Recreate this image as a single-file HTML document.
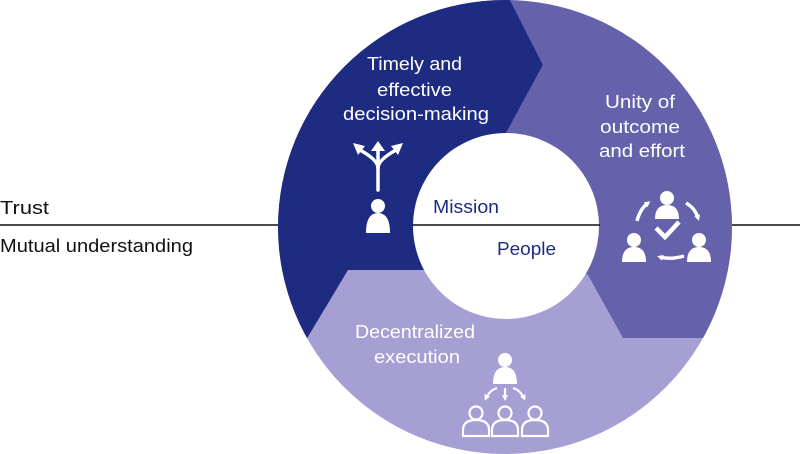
<!DOCTYPE html>
<html><head><meta charset="utf-8"><style>
html,body{margin:0;padding:0;background:#fff;}
svg{display:block;}
text{font-family:"Liberation Sans",sans-serif;}
</style></head><body>
<svg width="800" height="454" viewBox="0 0 800 454" xmlns="http://www.w3.org/2000/svg">
<defs>
<clipPath id="c"><circle cx="505" cy="227" r="227"/></clipPath>
<marker id="ah" markerWidth="6" markerHeight="6" refX="3" refY="3" orient="auto" markerUnits="userSpaceOnUse"><path d="M0,0 L6,3 L0,6 Z" fill="#fff"/></marker>
</defs>
<line x1="0" y1="225" x2="800" y2="225" stroke="#111" stroke-width="1.6"/>
<g clip-path="url(#c)">
<rect x="270" y="0" width="470" height="454" fill="#a59fd3"/>
<polygon points="260,0 510,0 543,65 505,135 505,270 348,270 300,350 260,350" fill="#1d2b80"/>
<polygon points="510,0 760,0 760,338 623,338 588,275 505,226 505,135 543,65" fill="#6661ab"/>
</g>
<circle cx="506" cy="226" r="93" fill="#fff"/>
<line x1="413" y1="225" x2="600" y2="225" stroke="#111" stroke-width="1.6"/>

<g fill="#fff" font-size="18.5">
<text x="367" y="70" textLength="95" lengthAdjust="spacingAndGlyphs">Timely and</text>
<text x="377" y="96" textLength="75" lengthAdjust="spacingAndGlyphs">effective</text>
<text x="343" y="120" textLength="146" lengthAdjust="spacingAndGlyphs">decision-making</text>
<text x="605" y="108" textLength="70" lengthAdjust="spacingAndGlyphs">Unity of</text>
<text x="600" y="133" textLength="80" lengthAdjust="spacingAndGlyphs">outcome</text>
<text x="599" y="157" textLength="86" lengthAdjust="spacingAndGlyphs">and effort</text>
<text x="355" y="338" textLength="120" lengthAdjust="spacingAndGlyphs">Decentralized</text>
<text x="374" y="363" textLength="86" lengthAdjust="spacingAndGlyphs">execution</text>
</g>
<g fill="#1d2b80" font-size="18.5">
<text x="433" y="213" textLength="66" lengthAdjust="spacingAndGlyphs">Mission</text>
<text x="497" y="255" textLength="59" lengthAdjust="spacingAndGlyphs">People</text>
</g>
<g fill="#111" font-size="18.5">
<text x="0" y="214" textLength="49" lengthAdjust="spacingAndGlyphs">Trust</text>
<text x="0" y="252" textLength="193" lengthAdjust="spacingAndGlyphs">Mutual understanding</text>
</g>

<!-- fork icon -->
<g stroke="#fff" stroke-width="3.5" fill="none" stroke-linecap="round">
<path d="M378,190 L378,168 Q378,160 360,150"/>
<path d="M378,168 Q378,160 396,150"/>
<path d="M378,168 L378,148"/>
</g>
<g fill="#fff">
<polygon points="353,143 365,146 358,155"/>
<polygon points="403,143 391,146 398,155"/>
<polygon points="371,151 378,141 385,151"/>
<circle cx="378" cy="206" r="7"/>
<path d="M366,233 Q366,213 378,213 Q390,213 390,233 Z"/>
</g>

<!-- cycle icon -->
<g fill="#fff">
<circle cx="667" cy="198" r="7"/>
<path d="M655,219 Q655,205 667,205 Q679,205 679,219 Z"/>
<circle cx="634" cy="240" r="7"/>
<path d="M622,262 Q622,247 634,247 Q646,247 646,262 Z"/>
<circle cx="699" cy="240" r="7"/>
<path d="M687,262 Q687,247 699,247 Q711,247 711,262 Z"/>
</g>
<g stroke="#fff" stroke-width="3.5" fill="none">
<path d="M637,221 Q640,209 648,203" marker-end="url(#ah)"/>
<path d="M686,203 Q695,208 698,218" marker-end="url(#ah)"/>
<path d="M684,256 Q670,260 660,257" marker-end="url(#ah)"/>
<path d="M656,228 L665,237 L679,222" stroke-width="4.5"/>
</g>

<!-- hierarchy icon -->
<g fill="#fff">
<circle cx="505" cy="360" r="7"/>
<path d="M493,384 Q493,367 505,367 Q517,367 517,384 Z"/>
</g>
<g stroke="#fff" stroke-width="2.2" fill="none">
<path d="M497,388 Q490,390 486,398" marker-end="url(#ah)"/>
<path d="M505,388 L505,398" marker-end="url(#ah)"/>
<path d="M513,388 Q520,390 524,398" marker-end="url(#ah)"/>
<circle cx="476" cy="413" r="6.5"/>
<path d="M463,436 L463,430 Q463,420 476,420 Q489,420 489,430 L489,436 Z"/>
<circle cx="505" cy="413" r="6.5"/>
<path d="M492,436 L492,430 Q492,420 505,420 Q518,420 518,430 L518,436 Z"/>
<circle cx="535" cy="413" r="6.5"/>
<path d="M522,436 L522,430 Q522,420 535,420 Q548,420 548,430 L548,436 Z"/>
</g>
</svg>
</body></html>
